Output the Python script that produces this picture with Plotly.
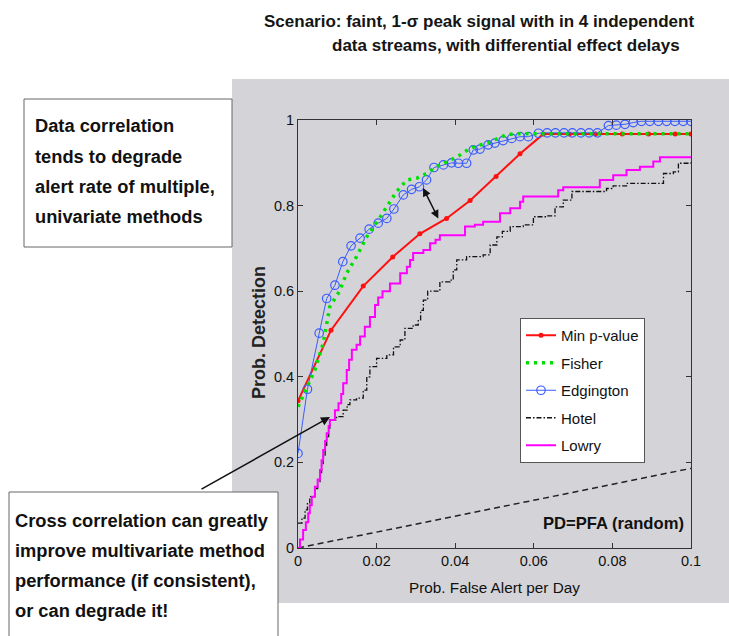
import plotly.graph_objects as go

# ---------------- data ----------------
x_ticks = [0, 0.02, 0.04, 0.06, 0.08, 0.1]
y_ticks = [0, 0.2, 0.4, 0.6, 0.8, 1]

minp_x = [0, 0.0084, 0.0166, 0.0241, 0.031, 0.0378, 0.0438, 0.0504, 0.0565, 0.0624,
          0.069, 0.0757, 0.0825, 0.0892, 0.096, 0.1]
minp_y = [0.344, 0.509, 0.612, 0.68, 0.734, 0.770, 0.812, 0.868, 0.921, 0.967,
          0.967, 0.967, 0.967, 0.967, 0.967, 0.967]

fisher_x = [0, 0.0043, 0.0064, 0.0081, 0.0105, 0.0124, 0.0149, 0.0175, 0.0204, 0.0226,
            0.0251, 0.0277, 0.0302, 0.0327, 0.0353, 0.0385, 0.0412, 0.0438, 0.0489,
            0.0531, 0.0565, 0.1]
fisher_y = [0.33, 0.416, 0.478, 0.564, 0.599, 0.642, 0.681, 0.727, 0.766, 0.797,
            0.833, 0.86, 0.864, 0.875, 0.891, 0.905, 0.918, 0.934, 0.949,
            0.966, 0.968, 0.968]

edg_x = [0, 0.0024, 0.0054, 0.0073, 0.0094, 0.0114, 0.0135, 0.0158, 0.0181, 0.0204,
         0.0226, 0.0244, 0.0268, 0.0289, 0.0309, 0.0327, 0.0346, 0.037, 0.0391, 0.0408,
         0.0429, 0.0446, 0.0463, 0.0484, 0.0501, 0.0522, 0.0544, 0.0565, 0.0586, 0.0612,
         0.0634, 0.0655, 0.0677, 0.0698, 0.072, 0.0741, 0.0762, 0.079, 0.081, 0.0832,
         0.0853, 0.0874, 0.0895, 0.0917, 0.0938, 0.0959, 0.098, 0.1]
edg_y = [0.221, 0.371, 0.502, 0.583, 0.614, 0.669, 0.706, 0.724, 0.745, 0.759,
         0.770, 0.792, 0.825, 0.838, 0.844, 0.86, 0.889, 0.895, 0.900, 0.899,
         0.899, 0.930, 0.932, 0.942, 0.946, 0.952, 0.957, 0.961, 0.961, 0.969,
         0.97, 0.97, 0.97, 0.97, 0.97, 0.97, 0.97, 0.987, 0.988, 0.99,
         0.994, 0.997, 0.997, 0.997, 0.997, 0.997, 0.997, 0.997]

hotel_x = [0, 0.001, 0.0018, 0.0024, 0.003, 0.0043, 0.005, 0.0056, 0.006, 0.0064,
           0.0069, 0.0073, 0.0078, 0.0081, 0.0098, 0.0115, 0.0125, 0.0132, 0.0149, 0.0166,
           0.0175, 0.0183, 0.02, 0.0226, 0.0243, 0.026, 0.0272, 0.0293, 0.0306, 0.0312,
           0.0319, 0.033, 0.0361, 0.0387, 0.0395, 0.0404, 0.0429, 0.0471, 0.0489, 0.0506,
           0.052, 0.054, 0.0573, 0.0599, 0.0633, 0.0654, 0.0675, 0.0697, 0.0785, 0.0802,
           0.0836, 0.093, 0.0955, 0.0968, 0.1]
hotel_y = [0.058, 0.07, 0.089, 0.105, 0.12, 0.139, 0.155, 0.174, 0.195, 0.213,
           0.24, 0.26, 0.28, 0.299, 0.307, 0.322, 0.335, 0.346, 0.350, 0.369,
           0.40, 0.424, 0.443, 0.451, 0.47, 0.486, 0.513, 0.521, 0.533, 0.555,
           0.579, 0.60, 0.622, 0.626, 0.65, 0.673, 0.681, 0.685, 0.708, 0.727,
           0.74, 0.751, 0.755, 0.774, 0.776, 0.797, 0.813, 0.833, 0.840, 0.846,
           0.852, 0.875, 0.879, 0.899, 0.903]

lowry_x = [0, 0.0005, 0.0013, 0.002, 0.0026, 0.003, 0.0035, 0.0043, 0.005, 0.0056,
           0.006, 0.0064, 0.0069, 0.0073, 0.0078, 0.0081, 0.0094, 0.0103, 0.011, 0.0115,
           0.0124, 0.013, 0.0137, 0.0149, 0.0158, 0.017, 0.0183, 0.0196, 0.0204, 0.0215,
           0.0234, 0.026, 0.0277, 0.0285, 0.0293, 0.0319, 0.0336, 0.035, 0.0361, 0.0425,
           0.045, 0.0471, 0.0514, 0.054, 0.0565, 0.0573, 0.0662, 0.0675, 0.0768, 0.0802,
           0.0836, 0.087, 0.0904, 0.0921, 0.1]
lowry_y = [0.0, 0.02, 0.042, 0.06, 0.081, 0.10, 0.12, 0.143, 0.16, 0.182,
           0.205, 0.229, 0.25, 0.268, 0.285, 0.299, 0.322, 0.338, 0.36, 0.385,
           0.416, 0.44, 0.463, 0.475, 0.494, 0.517, 0.540, 0.568, 0.585, 0.60,
           0.618, 0.642, 0.657, 0.673, 0.689, 0.696, 0.712, 0.72, 0.731, 0.751,
           0.755, 0.762, 0.782, 0.794, 0.809, 0.821, 0.836, 0.843, 0.86, 0.871,
           0.883, 0.891, 0.903, 0.913, 0.913]

random_x = [0, 0.1]
random_y = [0, 0.186]

title_lines = ["Scenario: faint, 1-\u03c3 peak signal with in 4 independent",
               "data streams, with differential effect delays"]
box1_lines = ["Data correlation", "tends to degrade", "alert rate of multiple,",
              "univariate methods"]
box2_lines = ["Cross correlation can greatly", "improve multivariate method",
              "performance (if consistent),", "or can degrade it!"]

FONT = "Liberation Sans, Arial, sans-serif"

# plot area in page pixels: x 298..691, y 120..548
def px(x):
    return (x - 298) / 393.0

def py(y):
    return (548 - y) / 428.0

fig = go.Figure()

fig.add_trace(go.Scatter(x=random_x, y=random_y, mode="lines", showlegend=False,
                         line=dict(color="#222", width=1.5, dash="6px,4px"), hoverinfo="skip"))
fig.add_trace(go.Scatter(x=hotel_x, y=hotel_y, mode="lines", name="Hotel", legendrank=4,
                         legendgroup="d", line=dict(color="#111", width=1.3, shape="hv",
                                                     dash="5px,2px,1.5px,2px")))
fig.add_trace(go.Scatter(x=lowry_x, y=lowry_y, mode="lines", name="Lowry", legendrank=5,
                         legendgroup="e", line=dict(color="#ff00ff", width=2, shape="hv")))
fig.add_trace(go.Scatter(x=minp_x, y=minp_y, mode="lines+markers", name="Min p-value", legendrank=1,
                         legendgroup="a", line=dict(color="#ff1010", width=2),
                         marker=dict(symbol="circle", size=5, color="#ff1010")))
fig.add_trace(go.Scatter(x=edg_x, y=edg_y, mode="lines+markers", name="Edgington", legendrank=3,
                         legendgroup="c", line=dict(color="#3a5cff", width=1),
                         marker=dict(symbol="circle-open", size=8.5, color="#3a5cff",
                                     line=dict(width=1.2))))
fig.add_trace(go.Scatter(x=fisher_x, y=fisher_y, mode="lines", name="Fisher", legendrank=2,
                         legendgroup="b", line=dict(color="#00e000", width=3.5, dash="3px,5px")))

shapes = [
    dict(type="rect", xref="paper", yref="paper", x0=px(232), x1=px(740), y0=py(603), y1=py(79),
         fillcolor="#d4d4d8", line=dict(width=0), layer="below"),
    dict(type="rect", xref="paper", yref="paper", x0=px(24), x1=px(232), y0=py(247), y1=py(99),
         fillcolor="white", line=dict(color="#666", width=1), layer="above"),
    dict(type="rect", xref="paper", yref="paper", x0=px(9), x1=px(278), y0=py(660), y1=py(492),
         fillcolor="white", line=dict(color="#666", width=1), layer="above"),
]

annotations = []
annotations.append(dict(text="<b>" + title_lines[0] + "</b>", xref="paper", yref="paper",
                        x=px(262), y=py(21), xanchor="left", yanchor="middle", showarrow=False,
                        font=dict(family=FONT, size=17, color="#151515")))
annotations.append(dict(text="<b>" + title_lines[1] + "</b>", xref="paper", yref="paper",
                        x=px(330), y=py(46), xanchor="left", yanchor="middle", showarrow=False,
                        font=dict(family=FONT, size=17, color="#151515")))
for i, t in enumerate(box1_lines):
    annotations.append(dict(text="<b>" + t + "</b>", xref="paper", yref="paper",
                            x=px(33), y=py(126 + 30 * i),
                            xanchor="left", yanchor="middle", showarrow=False,
                            font=dict(family=FONT, size=18.3, color="#111")))
for i, t in enumerate(box2_lines):
    annotations.append(dict(text="<b>" + t + "</b>", xref="paper", yref="paper",
                            x=px(13), y=py(520 + 30 * i),
                            xanchor="left", yanchor="middle", showarrow=False,
                            font=dict(family=FONT, size=18.3, color="#111")))
annotations.append(dict(text="<b>PD=PFA (random)</b>", xref="paper", yref="paper",
                        x=px(686), y=py(523), xanchor="right",
                        yanchor="middle", showarrow=False,
                        font=dict(family=FONT, size=16.6, color="#111")))
annotations.append(dict(text="Prob. False Alert per Day", xref="paper", yref="paper",
                        x=0.5, y=py(587), xanchor="center", yanchor="middle",
                        showarrow=False, font=dict(family=FONT, size=15.3, color="#111")))
annotations.append(dict(text="<b>Prob. Detection</b>", xref="paper", yref="paper",
                        x=px(259), y=py(333), xanchor="center", yanchor="middle",
                        textangle=-90, showarrow=False,
                        font=dict(family=FONT, size=18, color="#222")))
annotations.append(dict(x=0.00814, y=0.306, xref="x", yref="y", ax=-130, ay=73,
                        showarrow=True, arrowhead=2,
                        arrowsize=1.2, arrowwidth=1.5, arrowcolor="#111", text=""))
annotations.append(dict(x=0.0357, y=0.770, xref="x", yref="y", ax=-16, ay=-32,
                        showarrow=True, arrowhead=2, startarrowhead=2, arrowside="end+start",
                        arrowsize=1.1, arrowwidth=1.5, arrowcolor="#111", text=""))

fig.update_layout(
    width=729, height=636,
    margin=dict(l=298, r=38, t=120, b=88),
    paper_bgcolor="white", plot_bgcolor="white",
    shapes=shapes, annotations=annotations,
    font=dict(family=FONT, size=15, color="#111"),
    legend=dict(x=px(520), y=py(318), xanchor="left", yanchor="top",
                bgcolor="white", bordercolor="#555", borderwidth=1,
                font=dict(family=FONT, size=15, color="#111"),
                itemwidth=30, tracegroupgap=5, traceorder="grouped"),
)
axis_common = dict(showline=True, linecolor="#333", linewidth=1, mirror="ticks",
                   ticks="inside", ticklen=5, tickcolor="#333", showgrid=False,
                   zeroline=False, tickfont=dict(family=FONT, size=14.5, color="#111"))
fig.update_xaxes(range=[0, 0.1], tickvals=x_ticks, ticktext=[str(v) for v in x_ticks],
                 **axis_common)
fig.update_yaxes(range=[0, 1], tickvals=y_ticks, ticktext=[str(v) for v in y_ticks],
                 **axis_common)

fig.write_html("out.html", config={"displayModeBar": False},
               post_script="document.body.style.margin='0';document.body.style.overflow='hidden';")
